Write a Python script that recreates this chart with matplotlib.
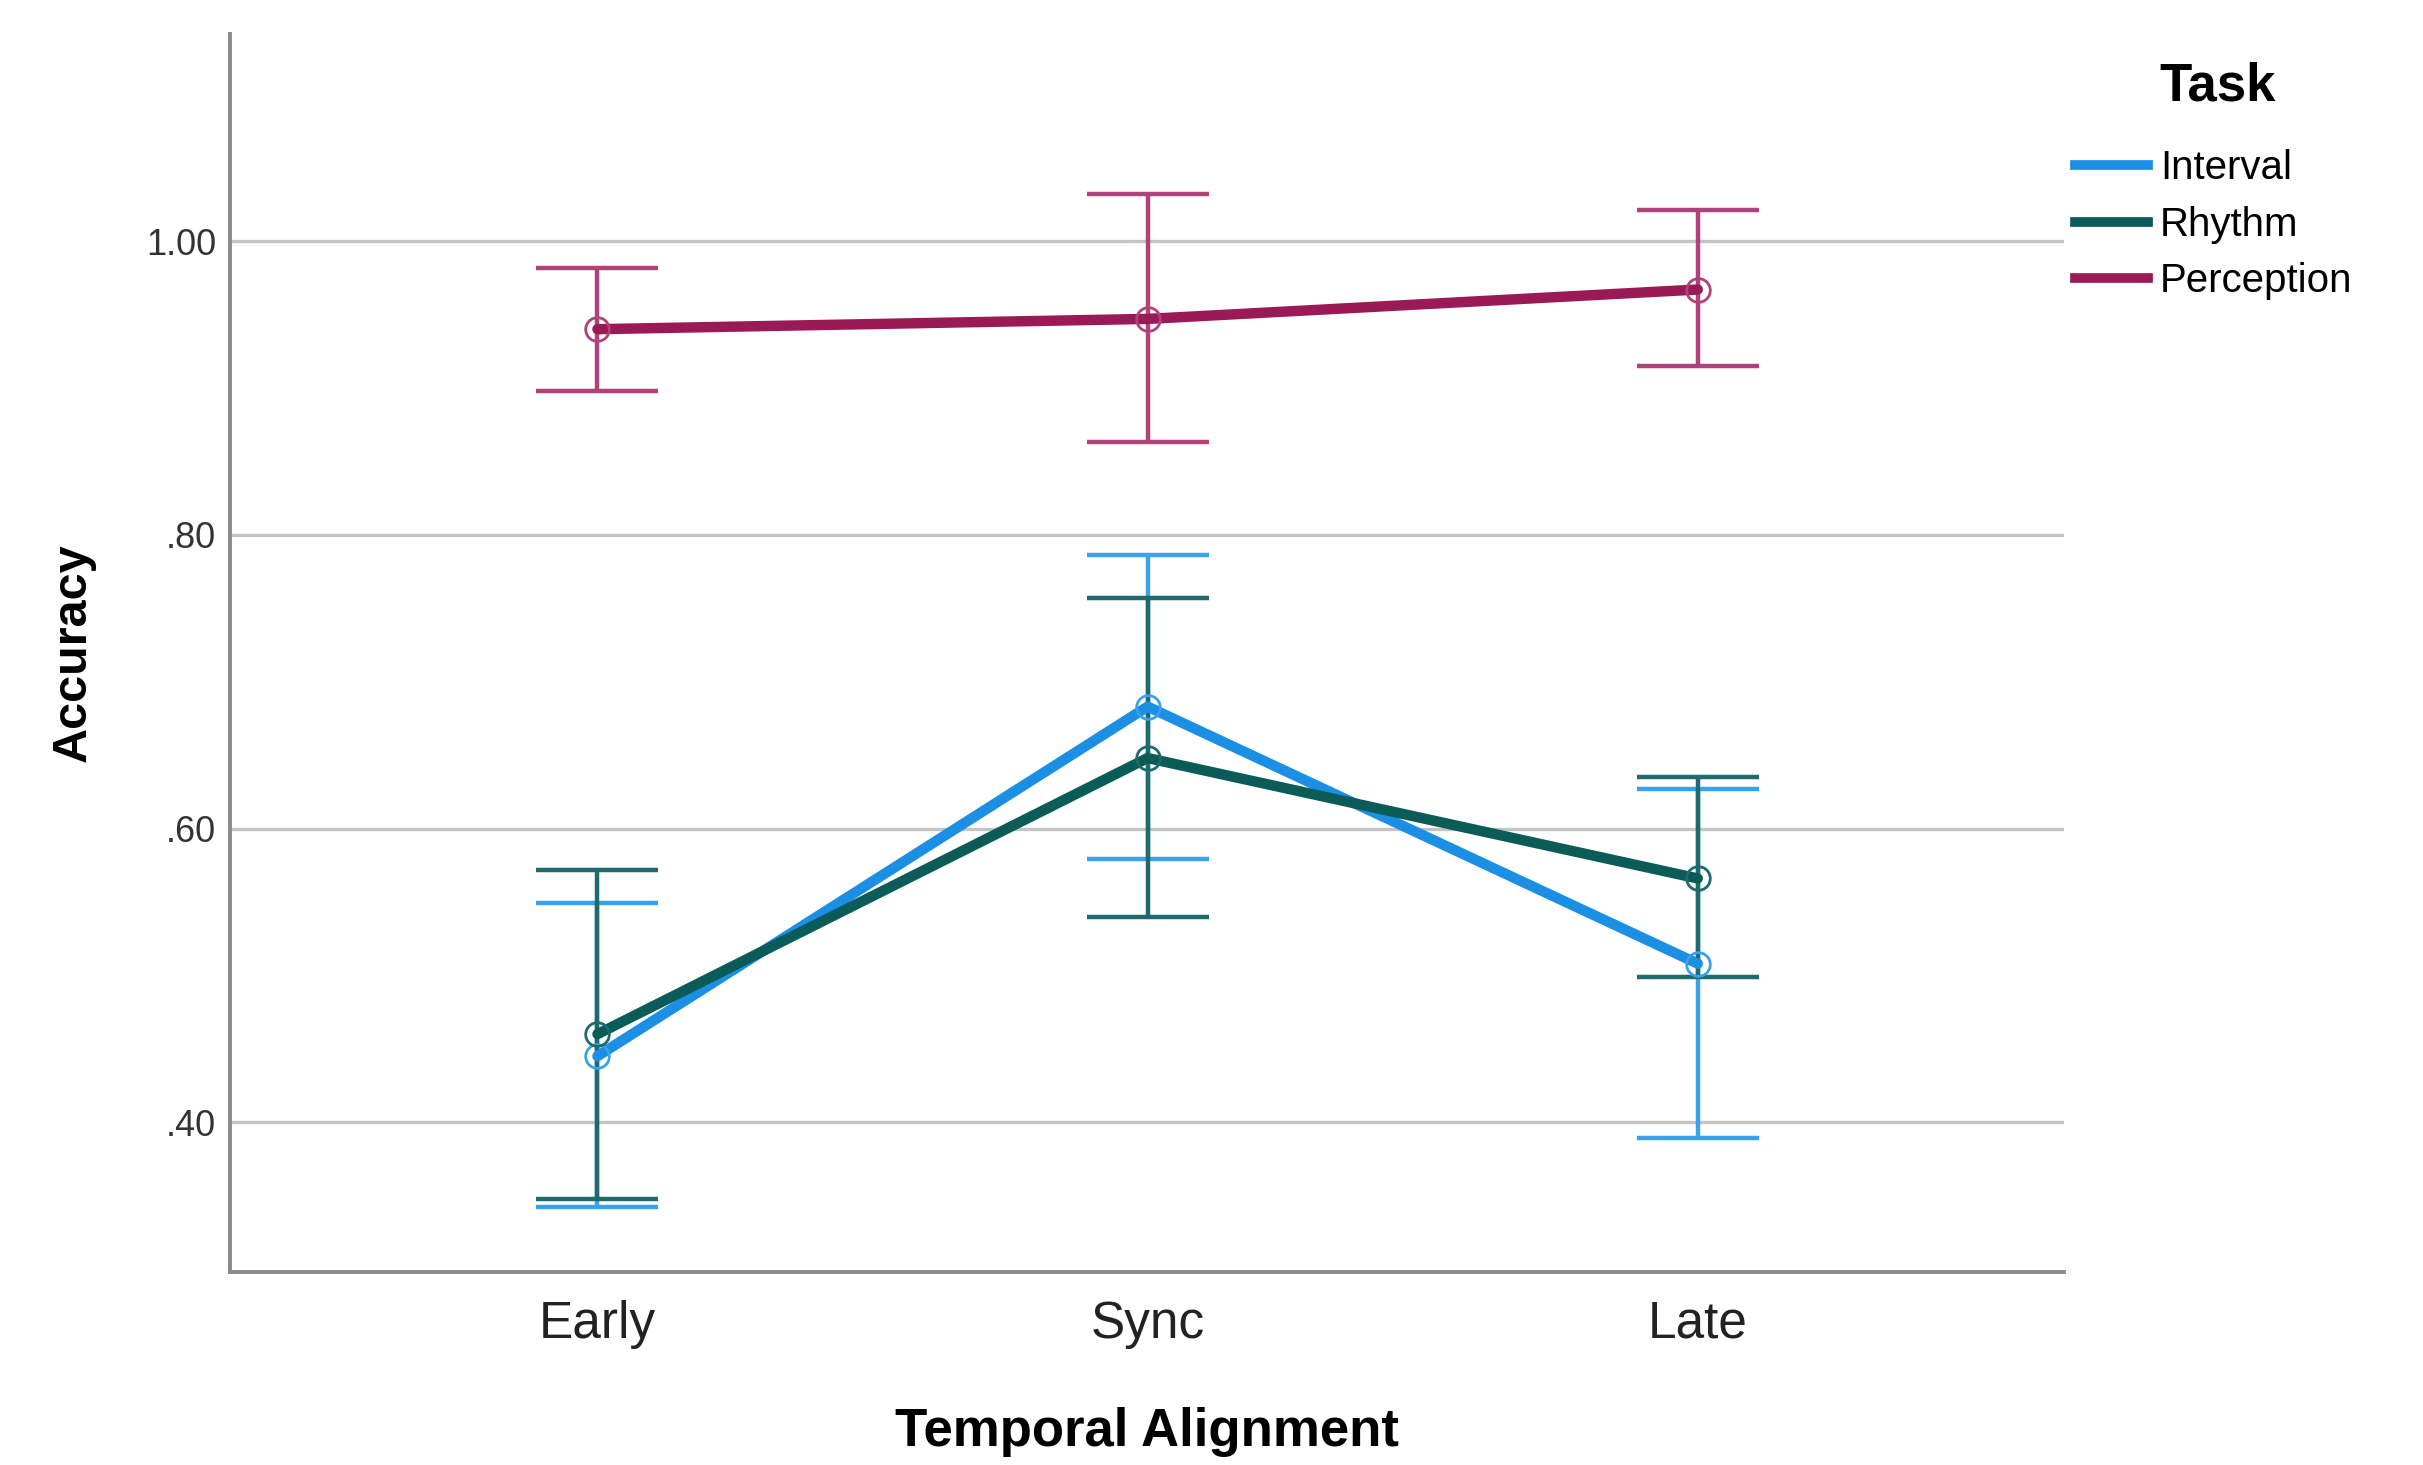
import numpy as np
import matplotlib
matplotlib.use("Agg")
import matplotlib.pyplot as plt
from matplotlib.lines import Line2D

plt.rcParams["font.family"] = ["Liberation Sans", "DejaVu Sans"]

# data (means and 95% CI bounds)
alignments = ["Early", "Sync", "Late"]
tasks = ["Interval", "Rhythm", "Perception"]

interval_mean = [0.445, 0.683, 0.508]
interval_low = [0.342, 0.579, 0.389]
interval_high = [0.549, 0.786, 0.627]

rhythm_mean = [0.460, 0.648, 0.566]
rhythm_low = [0.348, 0.540, 0.499]
rhythm_high = [0.572, 0.757, 0.635]

perception_mean = [0.940, 0.947, 0.967]
perception_low = [0.898, 0.863, 0.915]
perception_high = [0.982, 1.032, 1.021]

yticks = [0.40, 0.60, 0.80, 1.00]
ytick_labels = [".40", ".60", ".80", "1.00"]

line_colors = ["#1A8FE3", "#0B5C58", "#9A1A56"]
bar_colors = ["#3AA2EC", "#1F6A6C", "#B0427A"]

series = [
    (interval_mean, interval_low, interval_high),
    (rhythm_mean, rhythm_low, rhythm_high),
    (perception_mean, perception_low, perception_high),
]

fig = plt.figure(figsize=(24.23, 14.65), dpi=100)
ax = fig.add_axes([0.0949, 0.1317, 0.757, 0.8451])

x = np.arange(len(alignments))
for (mean, low, high), lc, bc in zip(series, line_colors, bar_colors):
    mean = np.array(mean)
    err = [mean - np.array(low), np.array(high) - mean]
    ax.errorbar(x, mean, yerr=err, fmt="none", ecolor=bc, elinewidth=3.2,
                capsize=44, capthick=3.2, zorder=3)
    ax.plot(x, mean, color=lc, lw=7.5, zorder=4, solid_capstyle="round")
    ax.plot(x, mean, "o", ms=17, mfc="none", mec=bc, mew=2, zorder=5)

ax.set_xlim(-0.668, 2.666)
ax.set_ylim(0.298, 1.141)
ax.set_xticks(x)
ax.set_xticklabels(alignments, fontsize=37, color="#222222")
ax.set_yticks(yticks)
ax.set_yticklabels(ytick_labels, fontsize=26, color="#333333")
ax.tick_params(length=0, pad=10)
ax.tick_params(axis="x", pad=20)
ax.grid(axis="y", color="#C4C4C4", lw=2.4)
ax.set_axisbelow(True)
for s in ["top", "right"]:
    ax.spines[s].set_visible(False)
for s in ["left", "bottom"]:
    ax.spines[s].set_color("#8A8A8A")
    ax.spines[s].set_linewidth(2.8)

ax.set_xlabel("Temporal Alignment", fontsize=38, fontweight="bold", labelpad=42)
ax.set_ylabel("Accuracy", fontsize=35, fontweight="bold", labelpad=36)

fig.text(0.891, 0.941, "Task", fontsize=38, fontweight="bold", va="center", ha="left")
handles = [Line2D([0], [0], color=c, lw=7) for c in line_colors]
fig.legend(handles, tasks, loc="upper left", bbox_to_anchor=(0.8565, 0.898),
           frameon=False, fontsize=29, borderpad=0, borderaxespad=0,
           handlelength=1.8, handletextpad=0.3, labelspacing=0.46)

fig.savefig("out.png", dpi=100)
